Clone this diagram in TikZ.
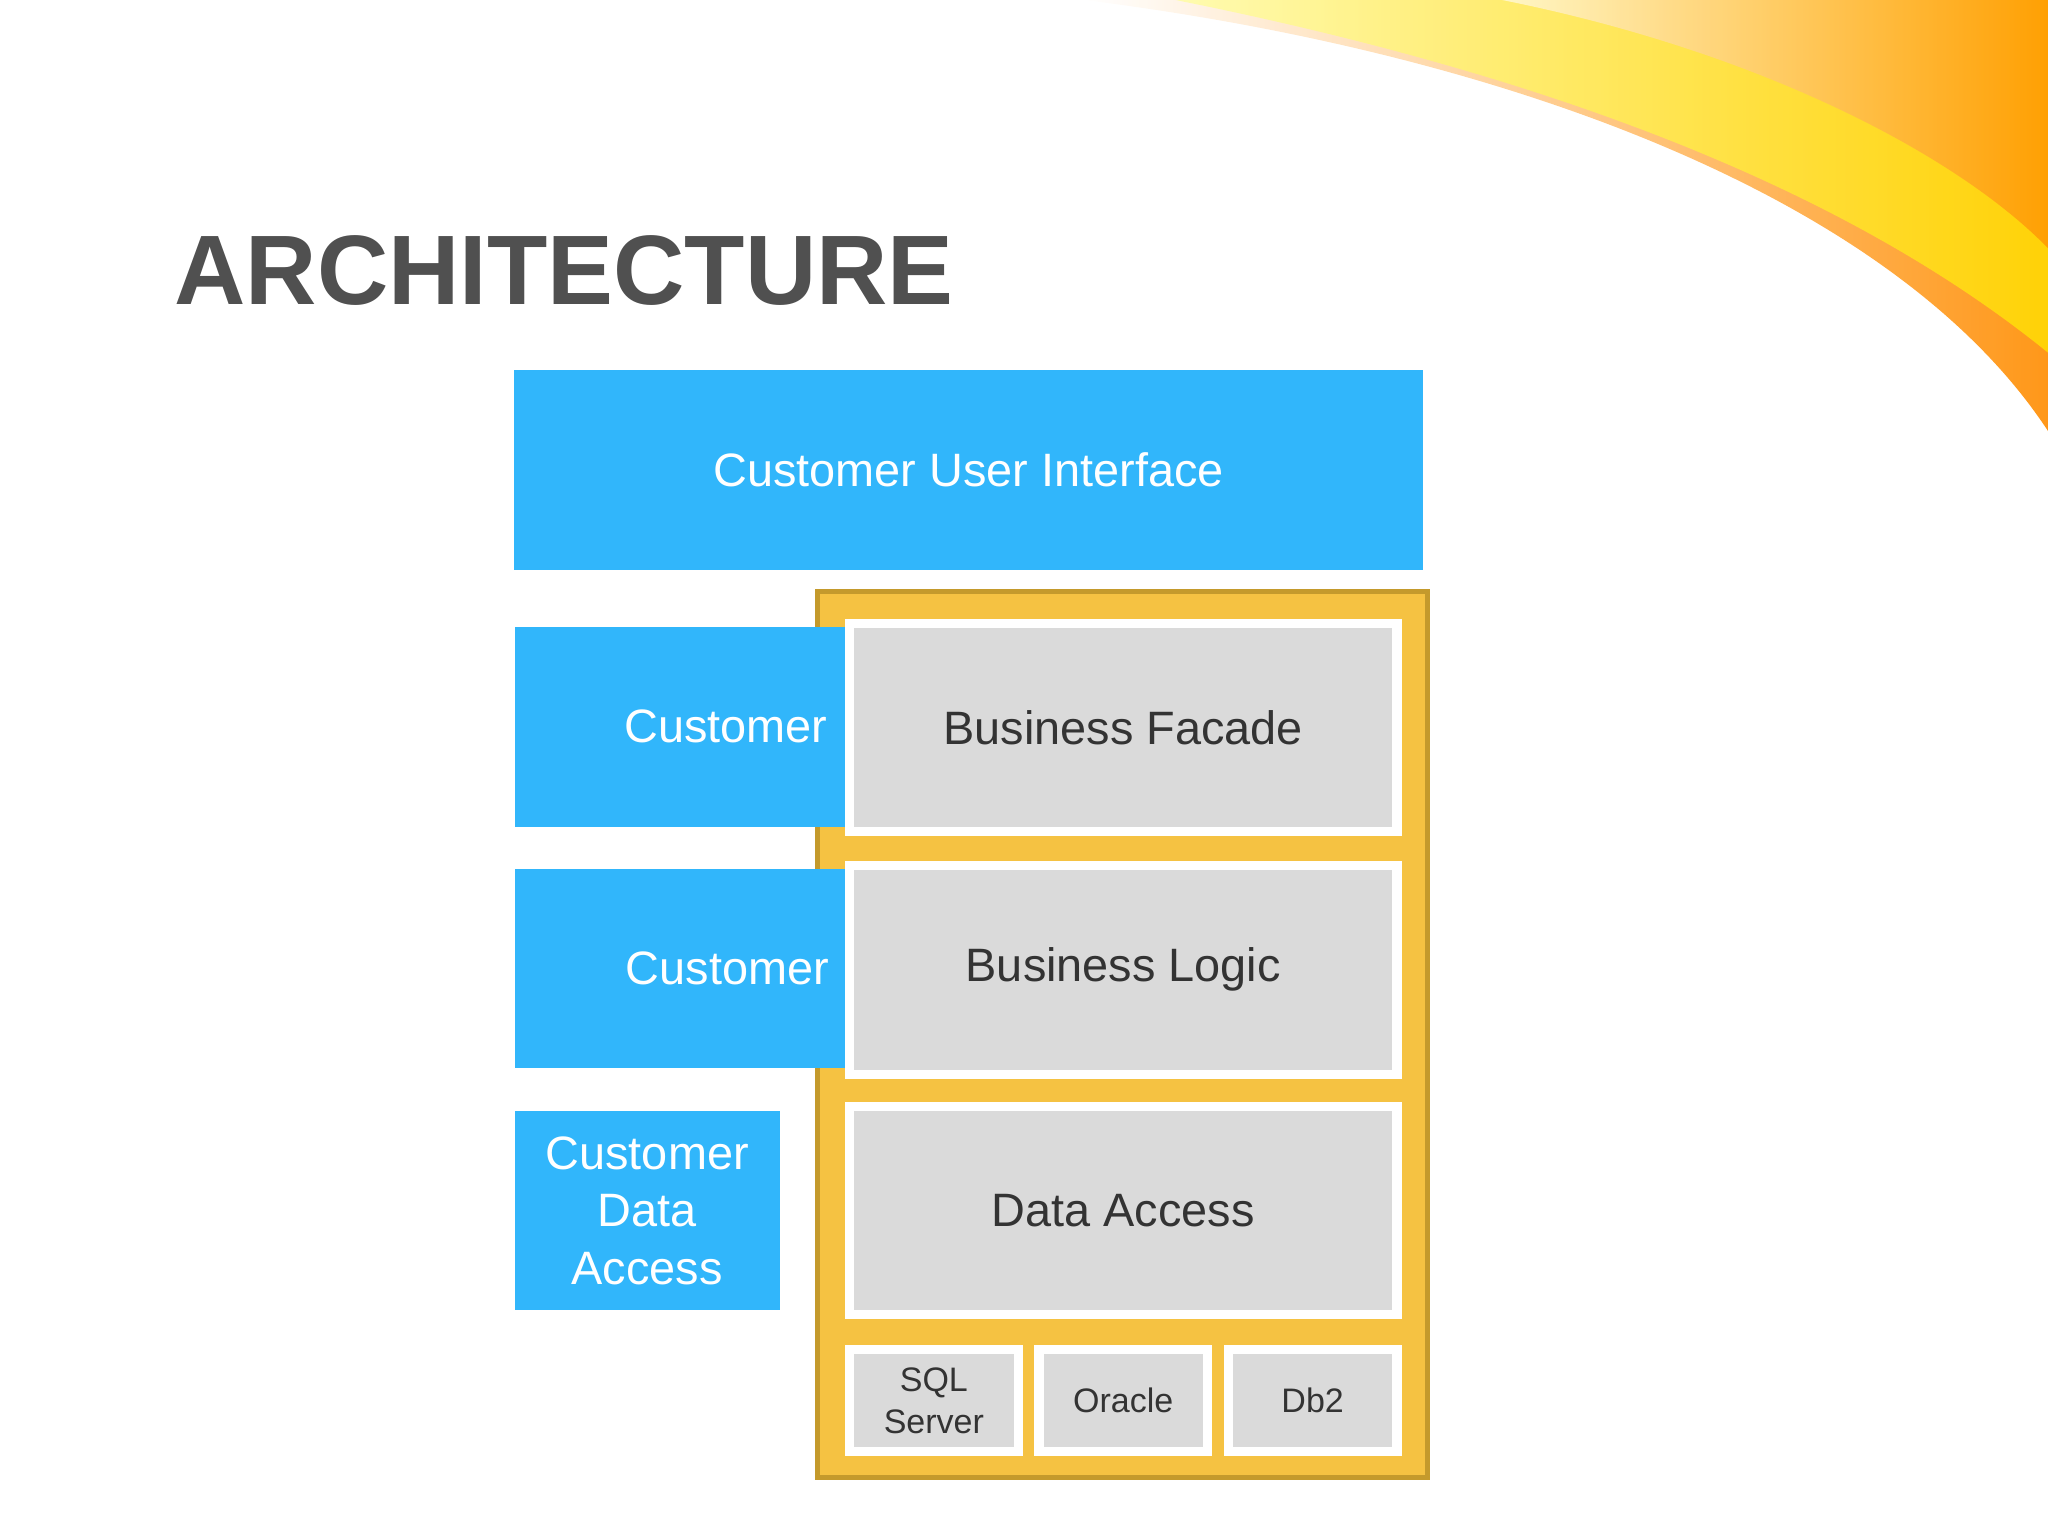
\documentclass[tikz,border=0pt]{standalone}
\usepackage{fontspec}
\setmainfont{Liberation Sans}
\begin{document}
\begin{tikzpicture}[x=0.01cm,y=-0.01cm,
  blue/.style={fill=cblue,draw=none,text=white,font=\fontsize{10.2}{12.5}\selectfont},
  gbox/.style={fill=cgray,draw=white,line width=0.07cm,text=ctext,font=\fontsize{10.2}{12.5}\selectfont},
  sbox/.style={fill=cgray,draw=white,line width=0.07cm,text=ctext,font=\fontsize{7.4}{9}\selectfont,align=center}]
\definecolor{cblue}{HTML}{31B6FB}
\definecolor{cgray}{HTML}{DADADA}
\definecolor{ctext}{HTML}{333333}
\definecolor{corange}{HTML}{F5C242}
\definecolor{cborder}{HTML}{C49A2C}
\definecolor{ctitle}{HTML}{505050}
\useasboundingbox (0,0) rectangle (1568,1176);
% swoosh
\shade[left color=white,right color=orange!90!yellow,opacity=0.9]
  (830,0) .. controls (1150,40) and (1450,150) .. (1568,330) -- (1568,0) -- cycle;
\shade[left color=yellow!40,right color=yellow!85!orange,opacity=0.7]
  (900,0) .. controls (1200,60) and (1420,150) .. (1568,270) -- (1568,0) -- cycle;
\shade[left color=white,right color=orange,opacity=0.6]
  (1150,0) .. controls (1350,40) and (1500,120) .. (1568,190) -- (1568,0) -- cycle;
% title
\node[anchor=base west,inner sep=0,text=ctitle,font=\fontsize{21.5}{24}\selectfont\bfseries] (title) at (133,233) {ARCHITECTURE};
% frame
\draw[fill=corange,draw=cborder,line width=0.04cm] (626,453) rectangle (1093,1131);
\node[blue,minimum width=6.95cm,minimum height=1.53cm,inner sep=0] (ui) at (741.5,359.5) {Customer User Interface};
\node[blue,minimum width=2.53cm,minimum height=1.53cm,inner sep=0,text width=2.26cm,align=right] (c1) at (520.5,556.5) {Customer};
\node[blue,minimum width=2.53cm,minimum height=1.53cm,inner sep=0,text width=2.28cm,align=right] (c2) at (520.5,741.5) {Customer};
\node[blue,minimum width=2.03cm,minimum height=1.52cm,inner sep=0,align=center] (c3) at (495.5,927) {Customer\\Data\\Access};
\node[gbox,minimum width=4.19cm,minimum height=1.59cm,inner sep=0] (bf) at (860,557) {Business Facade};
\node[gbox,minimum width=4.19cm,minimum height=1.60cm,inner sep=0] (bl) at (860,742.5) {Business Logic};
\node[gbox,minimum width=4.19cm,minimum height=1.59cm,inner sep=0] (da) at (860,927) {Data Access};
\node[sbox,minimum width=1.29cm,minimum height=0.78cm,inner sep=0] (sql) at (715,1072.5) {SQL\\Server};
\node[sbox,minimum width=1.29cm,minimum height=0.78cm,inner sep=0] (ora) at (860,1072.5) {Oracle};
\node[sbox,minimum width=1.29cm,minimum height=0.78cm,inner sep=0] (db2) at (1005,1072.5) {Db2};
\end{tikzpicture}
\end{document}
